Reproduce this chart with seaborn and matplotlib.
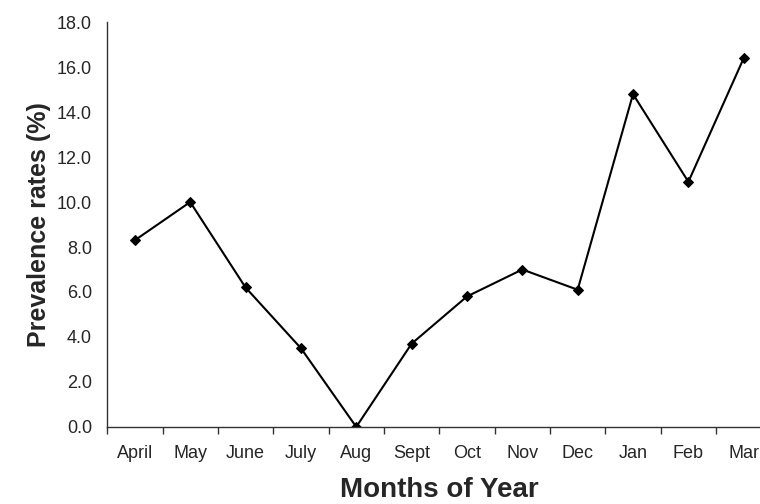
import numpy as np
import pandas as pd
import seaborn as sns
import matplotlib.pyplot as plt
from matplotlib.ticker import FixedLocator, FormatStrFormatter

months = ['April', 'May', 'June', 'July', 'Aug', 'Sept', 'Oct', 'Nov', 'Dec', 'Jan', 'Feb', 'Mar']
prevalence = [8.3, 10.0, 6.2, 3.5, 0.0, 3.7, 5.8, 7.0, 6.1, 14.8, 10.9, 16.4]

sns.set_style('white')
plt.rcParams['font.family'] = ['Liberation Sans', 'DejaVu Sans']

df = pd.DataFrame({'month': months, 'rate': prevalence})
df['pos'] = np.arange(len(months))

fig = plt.figure(figsize=(7.6, 5.04), dpi=100)
ax = fig.add_axes([0.141, 0.153, 0.874, 0.803])

sns.lineplot(data=df, x='pos', y='rate', ax=ax, color='black', linewidth=1.5,
             marker='D', markersize=5, markeredgecolor='black')

ax.set_xlim(-0.5, len(months) - 0.5)
ax.set_ylim(0, 18)
ax.set_yticks(np.arange(0, 18.1, 2))
ax.yaxis.set_major_formatter(FormatStrFormatter('%.1f'))

# month labels at centres, tick marks at the boundaries
ax.set_xticks(df['pos'])
ax.set_xticklabels(months)
ax.xaxis.set_minor_locator(FixedLocator(np.arange(-0.5, len(months), 1.0)))
ax.tick_params(axis='x', which='major', length=0, pad=13, labelsize=13)
ax.tick_params(axis='x', which='minor', length=5, width=1, color='#333333', direction='out', bottom=True)
ax.tick_params(axis='y', length=0, pad=11, labelsize=13)

for s in ['top', 'right']:
    ax.spines[s].set_visible(False)
for s in ['left', 'bottom']:
    ax.spines[s].set_color('#333333')
    ax.spines[s].set_linewidth(1.0)

ax.set_xlabel('Months of Year', fontsize=20, fontweight='bold', labelpad=11)
ax.set_ylabel('Prevalence rates (%)', fontsize=18, fontweight='bold', labelpad=4)

fig.savefig('out.png', dpi=100)
